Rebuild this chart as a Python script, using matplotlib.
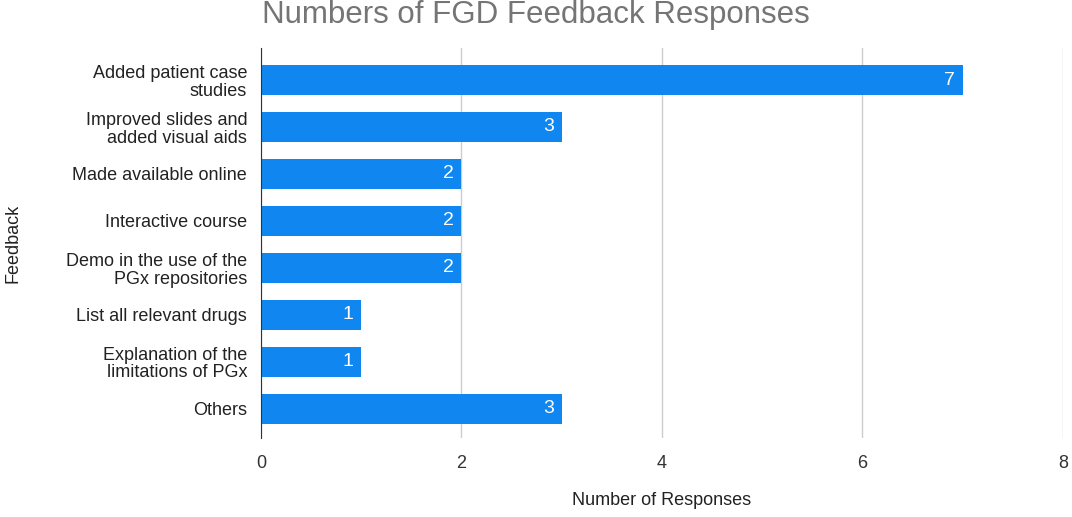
import matplotlib.pyplot as plt
import numpy as np

plt.rcParams['font.family'] = ['Liberation Sans', 'DejaVu Sans']

feedback = ['Added patient case\nstudies',
            'Improved slides and\nadded visual aids',
            'Made available online',
            'Interactive course',
            'Demo in the use of the\nPGx repositories',
            'List all relevant drugs',
            'Explanation of the\nlimitations of PGx',
            'Others']
responses = [7, 3, 2, 2, 2, 1, 1, 3]
xticks = [0, 2, 4, 6, 8]

fig = plt.figure(figsize=(10.72, 5.17), dpi=100)
ax = fig.add_axes([0.2435, 0.153, 0.748, 0.754])

y = np.arange(len(feedback))
ax.barh(y, responses, height=0.64, color='#0f86f0', zorder=3)
for yi, v in zip(y, responses):
    ax.text(v - 0.08, yi, str(v), color='white', ha='right', va='center',
            fontsize=14, zorder=4)

ax.set_yticks(y)
ax.set_yticklabels(feedback, fontsize=13, color='#222222', linespacing=1.05)
ax.set_ylim(len(feedback) - 0.38, -0.68)
ax.set_xlim(0, 8)
ax.set_xticks(xticks)
ax.set_xticklabels([str(t) for t in xticks], fontsize=13, color='#333333')
ax.tick_params(length=0, pad=10)
ax.tick_params(axis='x', pad=12)
ax.grid(axis='x', color='#cccccc', linewidth=1, zorder=0)
for s in ['top', 'right', 'bottom']:
    ax.spines[s].set_visible(False)
ax.spines['left'].set_color('#333333')
ax.spines['left'].set_zorder(5)

fig.text(0.617, 0.032, 'Number of Responses', fontsize=13, color='#222222',
         ha='center', va='center')
fig.text(0.012, 0.53, 'Feedback', rotation=90, fontsize=13, color='#222222',
         ha='center', va='center')
fig.text(0.5, 0.971, 'Numbers of FGD Feedback Responses', fontsize=22.5,
         color='#757575', ha='center', va='center')

fig.savefig('out.png', dpi=100)
